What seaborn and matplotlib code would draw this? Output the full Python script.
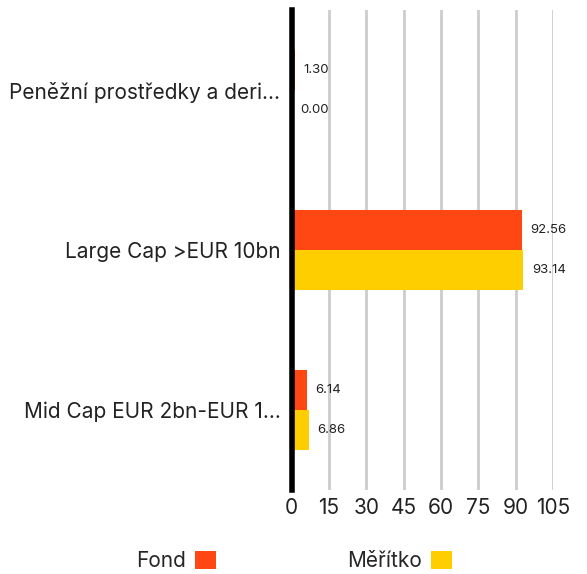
import pandas as pd
import matplotlib.pyplot as plt
import seaborn as sbn
from matplotlib.patches import Patch

categories = ['Peněžní prostředky a deri...', 'Large Cap >EUR 10bn', 'Mid Cap EUR 2bn-EUR 1...']
fond = [1.30, 92.56, 6.14]
meritko = [0.00, 93.14, 6.86]
series = ['Fond', 'Měřítko']
colors = ['#FF4713', '#FFCE00']
xticks = [0, 15, 30, 45, 60, 75, 90, 105]

df = pd.DataFrame({
    'category': categories * 2,
    'value': fond + meritko,
    'series': [series[0]] * 3 + [series[1]] * 3,
})

sbn.set_style('white')
plt.rcParams['font.family'] = ['Inter', 'DejaVu Sans']

fig = plt.figure(figsize=(5.87, 5.74), dpi=100)
ax = fig.add_axes([291.5 / 587, 1 - 490 / 574, (553 - 291.5) / 587, 480 / 574])

sbn.barplot(data=df, y='category', x='value', hue='series', palette=colors,
            orient='h', width=0.5, ax=ax, legend=False, saturation=1)

for p in ax.patches:
    p.set_edgecolor('none')

for cont in ax.containers:
    ax.bar_label(cont, fmt='%.2f', padding=6, fontsize=9.5, color='#222222')

ax.set_xlim(0, 105)
ax.set_ylim(2.5, -0.5)
ax.set_xticks(xticks)
ax.set_xticklabels([str(t) for t in xticks], fontsize=15, color='#222222')
ax.tick_params(axis='y', labelsize=15, colors='#222222', length=0, pad=8)
ax.tick_params(axis='x', length=0, pad=6)
ax.set_xlabel('')
ax.set_ylabel('')
ax.grid(axis='x', color='#cccccc', linewidth=2)
ax.set_axisbelow(True)
for s in ['top', 'right', 'bottom']:
    ax.spines[s].set_visible(False)
ax.spines['left'].set_linewidth(4)
ax.spines['left'].set_color('black')

handles = [Patch(facecolor=c, edgecolor='none') for c in colors]
fig.legend(handles, series, loc='center', bbox_to_anchor=(294 / 587, 1 - 561 / 574),
           ncol=2, frameon=False, markerfirst=False, fontsize=15,
           handlelength=1.0, handleheight=1.0, handletextpad=0.45, columnspacing=6.3)

fig.savefig('out.png', dpi=100)
